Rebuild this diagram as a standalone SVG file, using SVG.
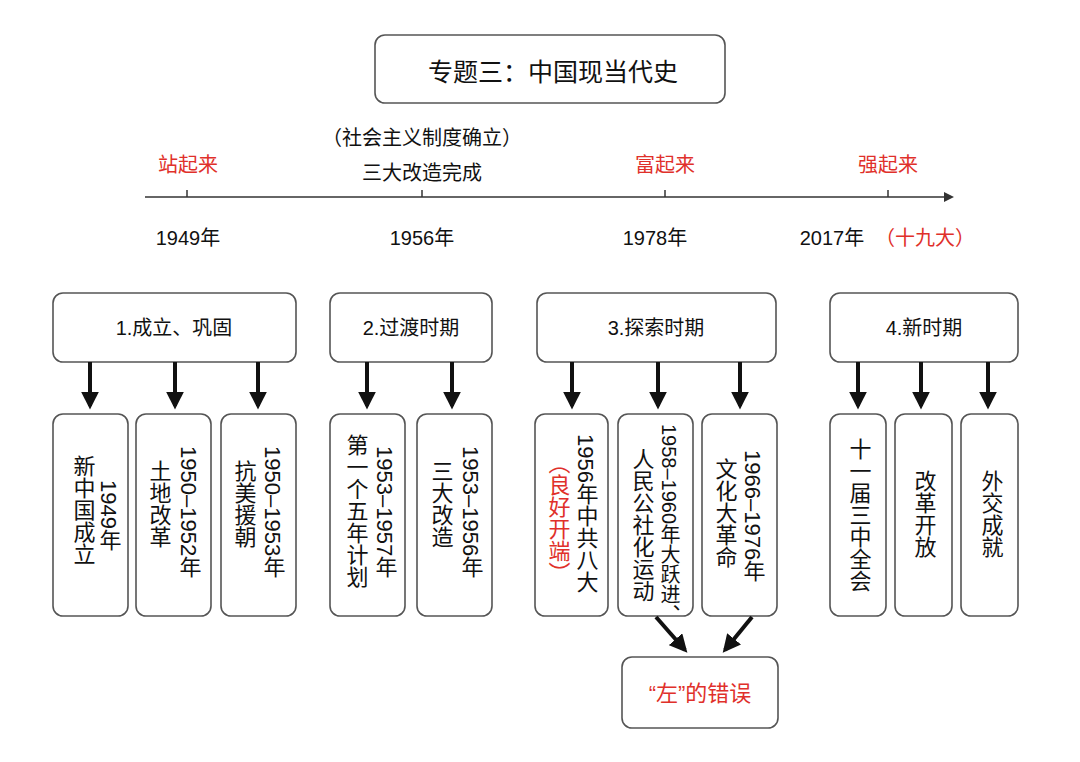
<svg xmlns="http://www.w3.org/2000/svg" width="1080" height="762" viewBox="0 0 1080 762">
<defs>
<style>
text{font-family:"Liberation Sans","Noto Sans CJK SC",sans-serif;font-size:20px;fill:#111}
.v{writing-mode:tb;text-orientation:mixed;font-size:22px}
.r{fill:#e0302a}
.b{fill:#fff;stroke:#555;stroke-width:1.6}
.c line{stroke:#111;stroke-width:4}
</style>
<marker id="ah" viewBox="0 0 10 10" refX="8" refY="5" markerWidth="4.5" markerHeight="4.5" orient="auto"><path d="M0,0L10,5L0,10z" fill="#111"/></marker>
</defs>
<rect width="1080" height="762" fill="#fff"/>
<g id="title"><rect class="b" x="375" y="35" width="350" height="68" rx="10"/><text x="553" y="81" text-anchor="middle" style="font-size:25px">专题三：中国现当代史</text></g>
<g id="timeline">
<line x1="145" y1="197" x2="948" y2="197" stroke="#333" stroke-width="1.5"/>
<path d="M944,192L954,197L944,202z" fill="#333"/>
<g stroke="#333" stroke-width="1.5"><line x1="187" y1="190" x2="187" y2="197"/><line x1="422" y1="190" x2="422" y2="197"/><line x1="665" y1="190" x2="665" y2="197"/><line x1="888" y1="190" x2="888" y2="197"/></g>
<text class="r" x="188" y="172" text-anchor="middle">站起来</text>
<text x="422" y="145" text-anchor="middle">（社会主义制度确立）</text>
<text x="422" y="180" text-anchor="middle">三大改造完成</text>
<text class="r" x="665" y="172" text-anchor="middle">富起来</text>
<text class="r" x="888" y="172" text-anchor="middle">强起来</text>
<text x="188" y="245" text-anchor="middle">1949年</text>
<text x="422" y="245" text-anchor="middle">1956年</text>
<text x="655" y="245" text-anchor="middle">1978年</text>
<text x="832" y="245" text-anchor="middle">2017年</text><text class="r" x="925" y="245" text-anchor="middle">（十九大）</text>
</g>
<g id="g1"><rect class="b" x="53" y="293" width="243" height="69" rx="10"/><text x="174" y="335" text-anchor="middle">1.成立、巩固</text></g>
<g id="g2"><rect class="b" x="330" y="293" width="162" height="69" rx="10"/><text x="411" y="335" text-anchor="middle">2.过渡时期</text></g>
<g id="g3"><rect class="b" x="537" y="293" width="239" height="69" rx="10"/><text x="656" y="335" text-anchor="middle">3.探索时期</text></g>
<g id="g4"><rect class="b" x="830" y="293" width="188" height="69" rx="10"/><text x="924" y="335" text-anchor="middle">4.新时期</text></g>
<g id="n1"><rect class="b" x="53" y="414" width="75" height="202" rx="10"/><text class="v" x="108" y="480">1949年</text><text class="v" x="82" y="455">新中国成立</text></g>
<g id="n2"><rect class="b" x="136" y="414" width="75" height="202" rx="10"/><text class="v" x="188" y="446">1950–1952年</text><text class="v" x="158" y="460">土地改革</text></g>
<g id="n3"><rect class="b" x="221" y="414" width="75" height="202" rx="10"/><text class="v" x="272" y="446">1950–1953年</text><text class="v" x="243" y="460">抗美援朝</text></g>
<g id="n4"><rect class="b" x="330" y="414" width="75" height="202" rx="10"/><text class="v" x="384" y="446">1953–1957年</text><text class="v" x="355" y="434">第一个五年计划</text></g>
<g id="n5"><rect class="b" x="417" y="414" width="75" height="202" rx="10"/><text class="v" x="470" y="446">1953–1956年</text><text class="v" x="440" y="460">三大改造</text></g>
<g id="n6"><rect class="b" x="535" y="414" width="73" height="202" rx="10"/><text class="v" x="585" y="434">1956年中共八大</text><text class="v r" x="557" y="452">（良好开端）</text></g>
<g id="n7"><rect class="b" x="618" y="414" width="75" height="202" rx="10"/><text class="v" x="669" y="424" style="font-size:20px">1958–1960年大跃进、</text><text class="v" x="641" y="448">人民公社化运动</text></g>
<g id="n8"><rect class="b" x="702" y="414" width="75" height="202" rx="10"/><text class="v" x="752" y="450">1966–1976年</text><text class="v" x="724" y="458">文化大革命</text></g>
<g id="n9"><rect class="b" x="830" y="414" width="56" height="202" rx="10"/><text class="v" x="858" y="438">十一届三中全会</text></g>
<g id="n10"><rect class="b" x="895" y="414" width="57" height="202" rx="10"/><text class="v" x="923" y="470">改革开放</text></g>
<g id="n11"><rect class="b" x="961" y="414" width="57" height="202" rx="10"/><text class="v" x="990" y="470">外交成就</text></g>
<g id="n12"><rect class="b" x="622" y="657" width="156" height="71" rx="10"/><text class="r" x="700" y="701" text-anchor="middle" style="font-size:22px">“左”的错误</text></g>
<g id="connectors" class="c">
<line x1="90" y1="362" x2="90" y2="406" marker-end="url(#ah)"/>
<line x1="175" y1="362" x2="175" y2="406" marker-end="url(#ah)"/>
<line x1="258" y1="362" x2="258" y2="406" marker-end="url(#ah)"/>
<line x1="367" y1="362" x2="367" y2="406" marker-end="url(#ah)"/>
<line x1="452" y1="362" x2="452" y2="406" marker-end="url(#ah)"/>
<line x1="572" y1="362" x2="572" y2="406" marker-end="url(#ah)"/>
<line x1="658" y1="362" x2="658" y2="406" marker-end="url(#ah)"/>
<line x1="740" y1="362" x2="740" y2="406" marker-end="url(#ah)"/>
<line x1="858" y1="362" x2="858" y2="406" marker-end="url(#ah)"/>
<line x1="921" y1="362" x2="921" y2="406" marker-end="url(#ah)"/>
<line x1="988" y1="362" x2="988" y2="406" marker-end="url(#ah)"/>
<line x1="656" y1="617" x2="685" y2="650" marker-end="url(#ah)"/>
<line x1="752" y1="617" x2="725" y2="650" marker-end="url(#ah)"/>
</g>
</svg>
